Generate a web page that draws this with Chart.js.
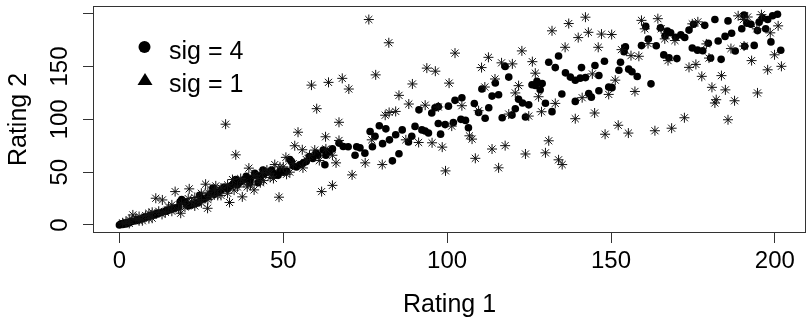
<!DOCTYPE html>
<html>
<head>
<meta charset="utf-8">
<script src="https://cdn.jsdelivr.net/npm/chart.js@4.4.0/dist/chart.umd.min.js"></script>
<style>
  html, body { margin: 0; padding: 0; background: #fff; }
</style>
</head>
<body>
<canvas id="chart" width="812" height="320"></canvas>
<script>
// --- DATA ---
// sig = 4 : filled dots
const sig4Points = [
  [0,0],[0.5,1],[1,0.5],[1.5,1.5],[2,1],[2.5,2.5],[3,2],[3.5,3],[4,3.5],[5,4],[5.5,5],[6,5],[7,6],[7.5,7],[8,7],
  [9,8],[9.5,9],[10,9],[11,10],[11.5,11],[12,11],[13,12],[14,13],[14.5,14],[15,14],[16,15],[17,16],[18,17],
  [18.5,22],[19,24],[20,22],[20.5,19],[21,18],[22,19],[23,20],[24,21],[24.5,28],[25,24],[26,25],[27,27],[28,30],
  [28.5,35],[29,29],[30,31],[31,33],[32,36],[33,34],[34,37],[35,40],[35.5,43],[36,38],[37,41],[38,43],[38.7,46],
  [39.8,40],[40,44],[41.3,49],[42,47],[42.3,40],[43,46],[43.8,52],[44,48],[45,50],[46.4,52],[47,49],[48.4,47],
  [49,51],[50,50],[51,51],[52,62],[52.5,60],[53,56],[54,55],[55,57],[56,58.5],[57,60],[58,64.8],[59,63],[60,68],
  [60.6,66],[62.2,71],[62.7,57],[63,66],[64,69.5],[65,72],[67,77.5],[68.3,74.3],[69.8,74],[71.9,66],[72.4,74],
  [73.4,73],[74.9,68],[76.5,88.5],[77.2,74],[78,84],[79.3,94],[80.3,77],[81.3,91],[82.4,80.6],[83.3,60.7],
  [84.3,85.4],[85.3,67.4],[86.3,90],[88.2,78.5],[89.2,84],[90.2,93.3],[91.4,109],[92.3,90],[93.3,89],[94.3,87],
  [95.3,106],[96.3,111],[97.3,96],[97.3,112],[98,86],[99.4,95],[100.4,112.5],[101.9,97],[102.4,118],[104.2,100],
  [104.5,120.5],[105.6,99],[106.5,92],[108.3,115],[109.6,106.5],[110.6,128.7],[111.6,101],[112.7,111],[113.7,122],
  [114.7,134.4],[115.7,123.3],[116.8,101.5],[117.7,150],[118.8,140],[119.8,104],[120.8,110],[121.8,119],[123,115.5],
  [123.9,102.2],[124.9,113.7],[125.9,132.8],[126.9,132],[127.4,136],[128.4,128],[129,134],[130,115.3],[131,154],
  [132,107.3],[133,149],[134,160],[135,124],[136.1,144],[137.6,140],[139.1,137],[139.1,117],[140.6,139],[141,149],
  [142.2,139.5],[143.2,124.5],[144,121],[145.1,151],[146.3,141.5],[146.3,127],[148,155],[149.3,130.5],[150.3,130],
  [152.4,146.5],[152.9,154],[154,164],[154.4,168.6],[155.4,147.5],[156.4,145],[158,140.5],[159.3,169.8],[160.6,188],
  [161.4,176],[162.2,133.6],[163.8,169.6],[165.1,186.6],[166.1,161],[166.5,179],[167.2,183.5],[167.7,158.2],
  [168.2,182],[169.7,177.7],[170.1,157.5],[171.3,180],[172.5,177.5],[173.8,184.5],[174.8,167.5],[175.2,190],
  [176.4,165.5],[178,165],[178.6,189],[179.7,172],[180.4,158],[181.7,194.5],[182.7,174.2],[183.6,156.8],
  [184.8,178.5],[185.7,193.2],[186.8,181.5],[187.9,164.7],[189.9,185.7],[190.6,198.8],[190.8,169.2],[191.5,191],
  [192.7,190],[193.7,170],[194.7,184],[195.2,192],[196.2,196],[197.2,185.7],[197.8,194.5],[198.8,173.3],
  [199.3,198],[200.8,199.5],[201.8,165.4]
];

// sig = 1 : asterisks
const sig1Points = [
  [1,2],[2,3],[3,1.5],[3,5],[4.1,9.5],[5,6],[6,4],[6,8],[7,4],[8,9],[9,6],[9,11],[10,6.4],[10,12],[11.1,25.3],
  [12,13],[13,10],[13.1,23.7],[14,12],[15,17],[16,13],[16,19],[17,31.6],[18,15],[18.7,11.1],[19,20],[20,17],
  [21,25],[21.3,34.2],[22,22],[23,18],[23,26],[24,24],[25,21],[25,30],[26.3,38.6],[26.9,15.8],[27,24],[27,31],
  [28,27],[29,33],[29.4,37],[30,28],[31,35],[31,28],[32.4,95.4],[33,30],[33,38],[33.6,21.3],[34.5,43],[35,33],
  [35.5,66.4],[36,36],[37,44],[37.5,26.6],[38,40],[39,36],[39.5,53.8],[40,38],[41,47],[41.1,33.2],[42,44],[43,40],
  [43.6,49.6],[44,42],[45,52],[45.9,49],[46,45],[47,44],[47.4,57.2],[48.7,26.3],[49,55],[50,55],[50.8,64],[51,48],
  [52,50],[53,58],[53.5,75],[54.5,87.8],[55.8,71.2],[56,54],[57,62],[58,66],[58.6,132.4],[59.6,70.9],[60.2,110.1],
  [61,61],[61.7,31.6],[62.9,83.5],[63,72],[63.8,135],[65,37.5],[65,66],[66.1,58.8],[67,97.2],[67,80],[68,138.8],
  [70,128.7],[71,47.4],[75,58.8],[76.1,194.5],[77,80.6],[78.2,142.1],[80.2,57.2],[81.1,103.9],[82.2,172.5],
  [82.3,106.5],[84.3,107.5],[85.3,122.7],[87.4,80.6],[88.3,114.5],[89.4,133.5],[91.3,78.1],[93.3,113.4],
  [93.8,148.5],[95.4,77.8],[96.4,145.6],[97.3,111.7],[98.5,73.7],[99.5,51.2],[100.6,134.3],[101.4,93.6],
  [102.4,162.7],[104.5,112.9],[106.8,84.4],[107.6,81.3],[108.6,63.1],[109.6,108.2],[110.5,149],[111.5,130.6],
  [112.6,158.7],[113.7,71.9],[114.6,138.2],[115.7,54.1],[116.6,153.5],[117.7,75.1],[118.8,105],[119.9,152.5],
  [120.8,125],[121.8,131.9],[122.8,164.8],[123.9,67.2],[124.9,103.1],[126,154.6],[126.9,143.7],[127.9,121.4],
  [128.8,107.2],[130,68.3],[131,79.7],[132,183.8],[133,115.1],[134,61.7],[135.1,57.2],[136,168.2],[137.1,190.7],
  [139.1,100.6],[140,177.4],[141.2,120.5],[142.2,196.7],[143.1,182.4],[144.3,143],[145,106],[146.1,168.2],
  [147.1,180.7],[148.2,85.9],[149.3,123.6],[150.2,180.3],[151.3,137.1],[152.2,94.4],[153.2,166],[155.3,87],
  [156.1,160.3],[157.3,126.4],[158.5,159.7],[159.3,193.7],[160.3,185.7],[161.3,171.7],[163.4,89.2],[164.3,195.3],
  [165.3,185.7],[166.4,176.2],[167.4,155.6],[168.5,91.6],[169.5,174.6],[172.4,101.5],[173.8,149.2],[174.8,190.4],
  [175.9,152],[176.5,192.3],[177.7,140.7],[179.1,171.4],[179.9,158],[180.8,130.3],[182.1,118.6],[181.7,115.5],
  [183.7,141.4],[184.9,127.9],[185.7,99.6],[186.6,167],[187.7,117.6],[188.8,198],[190.4,194.5],[190.6,169.4],
  [191.7,196.9],[192.9,155.6],[194.7,125],[194.5,185.7],[195.9,199.1],[197.8,146.9],[198.6,181.9],[199.9,161.1],
  [201,188.5],[202,150.2]
];

const xTicks = [0, 50, 100, 150, 200];
const yTicks = [0, 50, 100, 150, 200];
const yTickLabels = ['0', '50', '100', '150', ''];
const legendLabels = ['sig = 4', 'sig = 1'];
const xTitle = 'Rating 1';
const yTitle = 'Rating 2';

// --- STYLE ---
const FONT = "Arial, 'Liberation Sans', sans-serif";
const INK = '#000';
const AXIS = '#333';

const toXY = pts => pts.map(p => ({ x: p[0], y: p[1] }));

// box around the plotting region
const boxPlugin = {
  id: 'box',
  afterDraw(chart) {
    const { ctx, chartArea: a } = chart;
    ctx.save();
    ctx.strokeStyle = AXIS;
    ctx.lineWidth = 1;
    ctx.strokeRect(a.left + 0.5, a.top + 0.5, a.right - a.left - 1, a.bottom - a.top - 1);
    ctx.restore();
  }
};

// y tick labels, written along the axis
const yLabelPlugin = {
  id: 'yLabels',
  afterDraw(chart) {
    const { ctx } = chart;
    const ys = chart.scales.y;
    ctx.save();
    ctx.fillStyle = INK;
    ctx.font = '24px ' + FONT;
    ctx.textAlign = 'center';
    ctx.textBaseline = 'middle';
    yTicks.forEach((v, i) => {
      const py = ys.getPixelForValue(v);
      ctx.save();
      ctx.translate(60, py);
      ctx.rotate(-Math.PI / 2);
      ctx.fillText(yTickLabels[i], 0, 0);
      ctx.restore();
    });
    ctx.restore();
  }
};

// legend drawn inside the plot, no frame
const legendPlugin = {
  id: 'innerLegend',
  afterDraw(chart) {
    const { ctx } = chart;
    ctx.save();
    ctx.fillStyle = INK;
    // circle
    ctx.beginPath();
    ctx.arc(144.5, 47, 6, 0, Math.PI * 2);
    ctx.fill();
    // triangle
    ctx.beginPath();
    ctx.moveTo(145, 73);
    ctx.lineTo(152.5, 85);
    ctx.lineTo(137.5, 85);
    ctx.closePath();
    ctx.fill();
    ctx.font = '25px ' + FONT;
    ctx.textAlign = 'left';
    ctx.textBaseline = 'alphabetic';
    ctx.fillText(legendLabels[0], 169, 59);
    ctx.fillText(legendLabels[1], 169, 92);
    ctx.restore();
  }
};

new Chart(document.getElementById('chart'), {
  type: 'scatter',
  data: {
    datasets: [
      {
        label: legendLabels[1],
        data: toXY(sig1Points),
        pointStyle: 'star',
        pointRadius: 5,
        borderColor: '#111',
        borderWidth: 1,
        backgroundColor: '#111'
      },
      {
        label: legendLabels[0],
        data: toXY(sig4Points),
        pointStyle: 'circle',
        pointRadius: 3.8,
        borderWidth: 0,
        backgroundColor: '#000'
      }
    ]
  },
  options: {
    responsive: false,
    animation: false,
    events: [],
    layout: { padding: { left: 0, right: 6, top: 6, bottom: 0 } },
    plugins: {
      legend: { display: false },
      tooltip: { enabled: false }
    },
    scales: {
      x: {
        type: 'linear',
        min: -8.06,
        max: 209.5,
        afterFit: s => { s.height = 87; },
        afterBuildTicks: s => { s.ticks = xTicks.map(v => ({ value: v })); },
        ticks: { color: INK, font: { family: FONT, size: 24 }, padding: 4, maxRotation: 0 },
        grid: { drawOnChartArea: false, drawTicks: true, tickLength: 10, color: AXIS },
        border: { display: false },
        title: {
          display: true, text: xTitle, color: INK,
          font: { family: FONT, size: 25 }, padding: { top: 0, bottom: 0 }
        }
      },
      y: {
        type: 'linear',
        min: -7.6,
        max: 207.3,
        afterFit: s => { s.width = 93; },
        afterBuildTicks: s => { s.ticks = yTicks.map(v => ({ value: v })); },
        ticks: { display: false },
        grid: { drawOnChartArea: false, drawTicks: true, tickLength: 10, color: AXIS },
        border: { display: false },
        title: {
          display: true, text: yTitle, color: INK,
          font: { family: FONT, size: 25 }, padding: { top: 4, bottom: 0 }
        }
      }
    }
  },
  plugins: [boxPlugin, yLabelPlugin, legendPlugin]
});
</script>
</body>
</html>
